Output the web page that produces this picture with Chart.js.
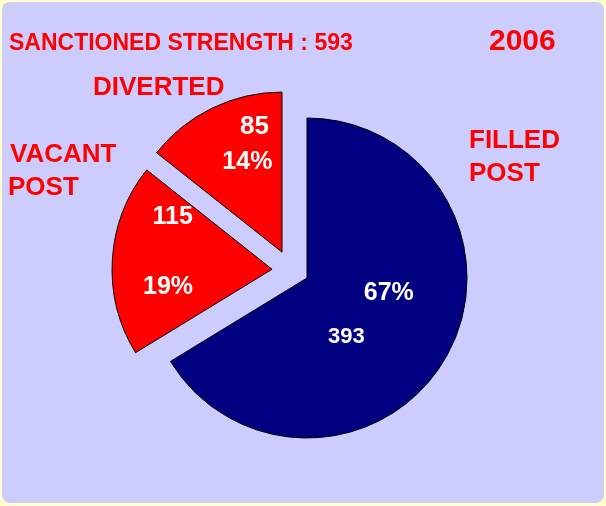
<!DOCTYPE html>
<html>
<head>
<meta charset="utf-8">
<script src="https://cdn.jsdelivr.net/npm/chart.js@4"></script>
<style>
  html, body { margin: 0; padding: 0; background: #ffffcc; }
  #wrap { position: relative; width: 606px; height: 506px; }
  #panel { position: absolute; left: 2px; top: 2px; width: 602px; height: 501px; background: #ccccff; border-radius: 8px; }
  #c { position: absolute; left: 0; top: 0; }
</style>
</head>
<body>
<div id="wrap">
  <div id="panel"></div>
  <canvas id="c" width="606" height="506"></canvas>
</div>
<script>
// ---- data ----
const categories = ['FILLED POST', 'VACANT POST', 'DIVERTED'];
const values = [393, 115, 85];
const percentLabels = ['67%', '19%', '14%'];
const titleText = 'SANCTIONED STRENGTH : 593';
const yearText = '2006';
const sliceColors = ['#000080', '#ff0000', '#ff0000'];

// explosion of slices (distance px, direction deg in canvas coords)
const explodeDist = [0, 36, 36];
const explodeDir = [0, 194, 226];

// label placement inside each slice: fraction along the arc, fraction of radius
const valuePos = [[0.613, 0.444], [0.844, 0.70], [0.76, 0.80]];
const pctPos = [[0.422, 0.52], [0.307, 0.66], [0.59, 0.60]];
const valueFont = ['bold 22px "Liberation Sans", Arial, sans-serif', 'bold 25px "Liberation Sans", Arial, sans-serif', 'bold 26px "Liberation Sans", Arial, sans-serif'];
const pctFont = 'bold 25px "Liberation Sans", Arial, sans-serif';

const explodePlugin = {
  id: 'explode',
  afterDatasetUpdate(chart, args) {
    args.meta.data.forEach((el, i) => {
      const d = explodeDist[i] || 0;
      const a = explodeDir[i] * Math.PI / 180;
      el.x += Math.cos(a) * d;
      el.y += Math.sin(a) * d;
    });
  }
};

const labelPlugin = {
  id: 'sliceLabels',
  afterDatasetsDraw(chart) {
    const ctx = chart.ctx;
    const meta = chart.getDatasetMeta(0);
    ctx.save();
    ctx.fillStyle = '#ffffff';
    ctx.textAlign = 'center';
    ctx.textBaseline = 'middle';
    meta.data.forEach((el, i) => {
      const draw = (text, pos, font) => {
        const ang = el.startAngle + pos[0] * (el.endAngle - el.startAngle);
        const r = pos[1] * el.outerRadius;
        ctx.font = font;
        ctx.fillText(text, el.x + Math.cos(ang) * r, el.y + Math.sin(ang) * r);
      };
      draw(String(values[i]), valuePos[i], valueFont[i]);
      draw(percentLabels[i], pctPos[i], pctFont);
    });
    ctx.restore();
  }
};

const textPlugin = {
  id: 'annotText',
  afterDraw(chart) {
    const ctx = chart.ctx;
    ctx.save();
    ctx.fillStyle = '#ff0000';
    ctx.textAlign = 'left';
    ctx.textBaseline = 'alphabetic';
    ctx.font = 'bold 23px "Liberation Sans", Arial, sans-serif';
    ctx.fillText(titleText, 9, 50);
    ctx.font = 'bold 30px "Liberation Sans", Arial, sans-serif';
    ctx.fillText(yearText, 489, 50);
    ctx.font = 'bold 26px "Liberation Sans", Arial, sans-serif';
    ctx.fillText(categories[2], 93, 95);
    const vac = categories[1].split(' ');
    ctx.fillText(vac[0], 10, 162);
    ctx.fillText(vac[1], 8, 195);
    const fil = categories[0].split(' ');
    ctx.fillText(fil[0], 469, 148);
    ctx.fillText(fil[1], 469, 181);
    ctx.restore();
  }
};

new Chart(document.getElementById('c'), {
  type: 'pie',
  data: {
    labels: categories,
    datasets: [{
      data: values,
      backgroundColor: sliceColors,
      borderColor: '#000000',
      borderWidth: 1
    }]
  },
  options: {
    responsive: false,
    animation: false,
    devicePixelRatio: 1,
    radius: 160,
    layout: { padding: { left: 8, right: 0, top: 50, bottom: 0 } },
    plugins: {
      legend: { display: false },
      tooltip: { enabled: false },
      title: { display: false }
    },
    events: []
  },
  plugins: [explodePlugin, labelPlugin, textPlugin]
});
</script>
</body>
</html>
